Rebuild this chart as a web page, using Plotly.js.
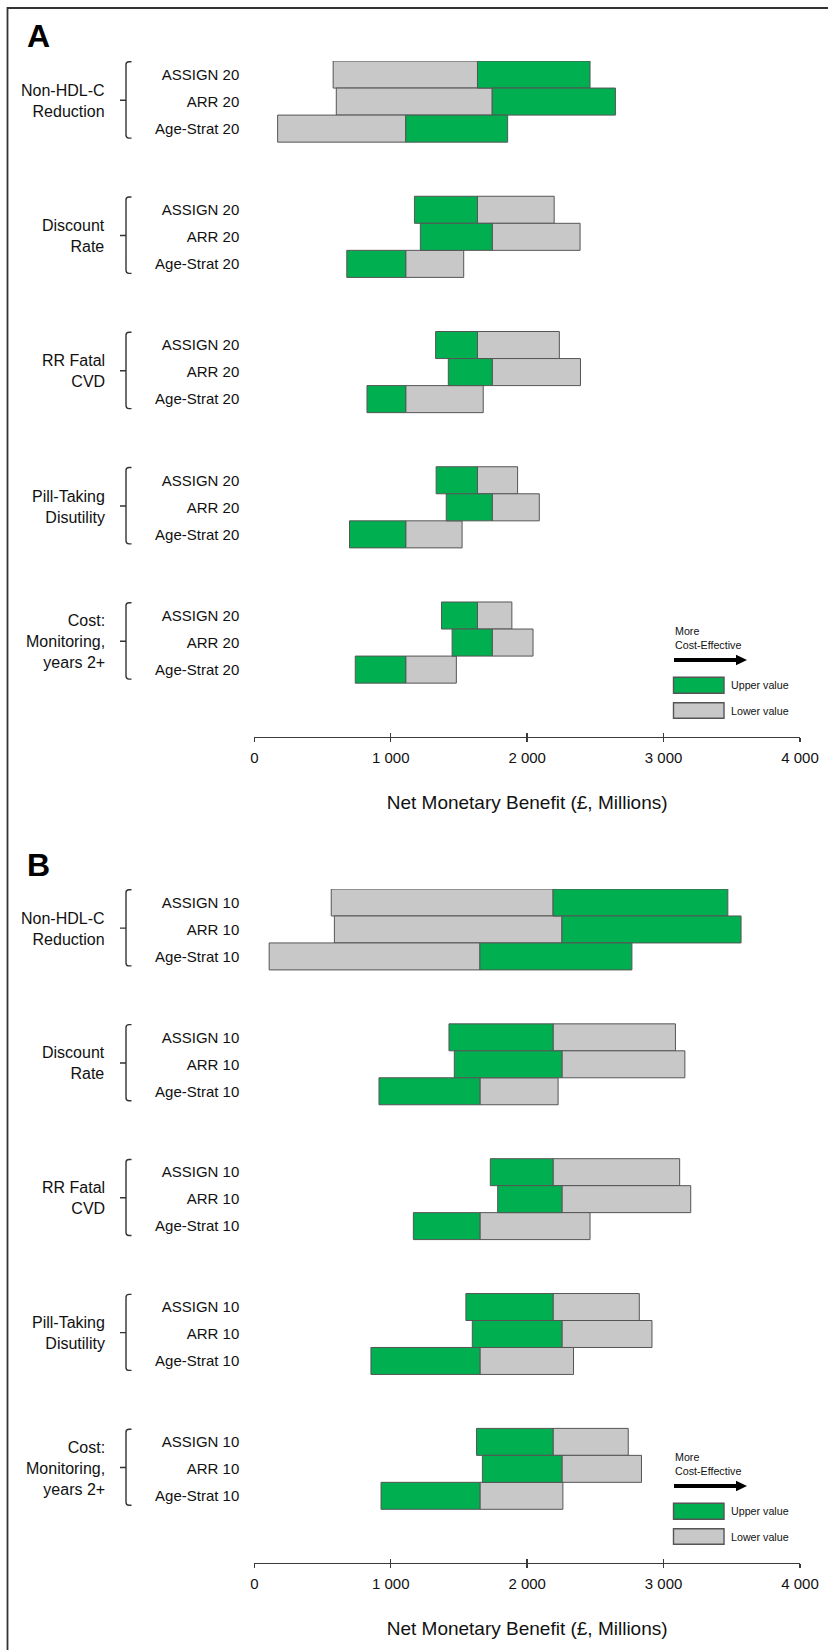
<!DOCTYPE html>
<html><head><meta charset="utf-8">
<script src="https://cdn.plot.ly/plotly-3.0.1.min.js"></script>
<style>html,body{margin:0;padding:0;background:#fff}#chart{width:828px;height:1650px}</style>
</head><body><div id="chart"></div>
<script>
// ---------------- DATA ----------------
const groupLabels = ['Non-HDL-C<br>Reduction', 'Discount<br>Rate', 'RR Fatal<br>CVD', 'Pill-Taking<br>Disutility', 'Cost:<br>Monitoring,<br>years 2+'];
const modelsA = ['ASSIGN 20', 'ARR 20', 'Age-Strat 20'];
const modelsB = ['ASSIGN 10', 'ARR 10', 'Age-Strat 10'];
// base-case net monetary benefit per model (£ millions)
const baseA = [1636, 1744, 1110];
const baseB = [2190, 2255, 1654];
// NMB at upper / lower parameter value, rows in order group x model
const upperA = [2461, 2647, 1857,  1174, 1217, 678,  1329, 1422, 826,  1333, 1407, 698,  1372, 1450, 740];
const lowerA = [578, 601, 171,  2198, 2388, 1535,  2236, 2391, 1678,  1930, 2089, 1523,  1888, 2043, 1481];
const upperB = [3471, 3568, 2768,  1427, 1466, 914,  1730, 1784, 1166,  1551, 1598, 855,  1629, 1672, 929];
const lowerB = [564, 587, 109,  3087, 3156, 2227,  3118, 3199, 2461,  2822, 2915, 2340,  2741, 2838, 2262];
const xTickVals = [0, 1000, 2000, 3000, 4000];
const xTickText = ['0', '1 000', '2 000', '3 000', '4 000'];
const axisTitle = 'Net Monetary Benefit (£, Millions)';
const legendNames = ['Upper value', 'Lower value'];
const arrowText = 'More<br>Cost-Effective';
const panelLetters = ['A', 'B'];

// ---------------- STYLE / LAYOUT ----------------
const W = 828, H = 1650;
const px = v => v / W;
const py = v => 1 - v / H;
const FONT = 'Liberation Sans, Arial, Helvetica, sans-serif';
const TXT = '#111';
const GREEN = '#00b050', GRAY = '#c8c8c8', EDGE = '#555', AXC = '#3a3a3a';
const ROWS_PER_GROUP = 5;
const yRange = [24.48, -0.5];
const xDom = [px(254.3), px(800)];

const panels = [
  {letter: panelLetters[0], models: modelsA, base: baseA, upper: upperA, lower: lowerA, xa: 'x', ya: 'y', ov: 'x3', top: 61, axisY: 736.7},
  {letter: panelLetters[1], models: modelsB, base: baseB, upper: upperB, lower: lowerB, xa: 'x2', ya: 'y2', ov: 'x4', top: 889, axisY: 1562.7}
];

const traces = [], shapes = [], annotations = [];
const layout = {
  width: W, height: H, margin: {l: 0, r: 0, t: 0, b: 0, pad: 0},
  paper_bgcolor: '#fff', plot_bgcolor: 'rgba(0,0,0,0)',
  showlegend: false, barmode: 'overlay',
  font: {family: FONT, color: TXT, size: 15}
};

panels.forEach((p, pi) => {
  const ys = [], baseArr = [], upLen = [], loLen = [], tickV = [], tickT = [];
  groupLabels.forEach((g, gi) => {
    p.models.forEach((m, mi) => {
      const k = gi * 3 + mi;
      const y = gi * ROWS_PER_GROUP + mi;
      ys.push(y); tickV.push(y); tickT.push(m);
      baseArr.push(p.base[mi]);
      upLen.push(p.upper[k] - p.base[mi]);
      loLen.push(p.lower[k] - p.base[mi]);
    });
    const top = gi * ROWS_PER_GROUP - 0.47, bot = gi * ROWS_PER_GROUP + 2.35, mid = gi * ROWS_PER_GROUP + 0.95;
    const vx = px(126), hx = px(131.5), nx = px(120), rx = px(3), ry = 0.11;
    shapes.push({type: 'path', xref: 'paper', yref: p.ya, line: {color: '#333', width: 1.4},
      path: `M${hx},${top} L${vx + rx},${top} Q${vx},${top} ${vx},${top + ry} L${vx},${bot - ry} Q${vx},${bot} ${vx + rx},${bot} L${hx},${bot} M${vx},${mid} L${nx},${mid}`});
    annotations.push({xref: 'paper', yref: p.ya, x: px(107), y: gi * ROWS_PER_GROUP + 0.97, xanchor: 'right', yanchor: 'middle',
      align: 'right', showarrow: false, text: g, font: {size: 16, color: TXT}});
  });
  traces.push({type: 'bar', orientation: 'h', name: legendNames[1], y: ys, x: loLen, base: baseArr, width: 1,
    marker: {color: GRAY, line: {color: EDGE, width: 1}}, xaxis: p.xa, yaxis: p.ya, hoverinfo: 'skip'});
  traces.push({type: 'bar', orientation: 'h', name: legendNames[0], y: ys, x: upLen, base: baseArr, width: 1,
    marker: {color: GREEN, line: {color: EDGE, width: 1}}, xaxis: p.xa, yaxis: p.ya, hoverinfo: 'skip'});
  traces.push({type: 'scatter', x: [], y: [], xaxis: p.ov, yaxis: p.ya, showlegend: false, hoverinfo: 'skip'});

  const yDom = [py(p.axisY), py(p.top)];
  const xKey = p.xa === 'x' ? 'xaxis' : 'xaxis2';
  const yKey = p.ya === 'y' ? 'yaxis' : 'yaxis2';
  const ovKey = 'xaxis' + p.ov.slice(1);
  layout[xKey] = {domain: xDom, anchor: p.ya, range: [0, 4000], tickvals: xTickVals, ticktext: xTickText,
    ticks: 'outside', ticklen: 4, tickwidth: 1.5, tickcolor: AXC, showline: true, linecolor: AXC, linewidth: 1.6,
    showgrid: false, zeroline: false, automargin: false, tickfont: {size: 15, color: TXT}, ticklabelstandoff: 3,
    title: {text: axisTitle, font: {size: 19, color: TXT}, standoff: 30}};
  layout[ovKey] = {overlaying: p.xa, anchor: p.ya, range: [0, 4000], tickvals: xTickVals, ticks: 'inside', ticklen: 4,
    tickwidth: 1.5, tickcolor: AXC, showticklabels: false, showline: false, showgrid: false, zeroline: false};
  layout[yKey] = {domain: yDom, anchor: p.xa, range: yRange, tickvals: tickV, ticktext: tickT, ticks: '',
    showline: false, showgrid: false, zeroline: false, automargin: false, ticklabelstandoff: 14,
    tickfont: {size: 15, color: TXT}};

  // panel letter
  annotations.push({xref: 'paper', yref: 'paper', x: px(25), y: py(p.top - 24.5), xanchor: 'left', yanchor: 'middle',
    showarrow: false, text: '<b>' + p.letter + '</b>', font: {size: 32, color: '#000'}});

  // legend (relative to axis line)
  const a = p.axisY;
  annotations.push({xref: 'paper', yref: 'paper', x: px(673), y: py(a - 98.3), xanchor: 'left', yanchor: 'middle',
    align: 'left', showarrow: false, text: arrowText, font: {size: 10.7, color: TXT}});
  const ax0 = 674, ax1 = 736, ax2 = 747, ay = a - 76.7;
  shapes.push({type: 'path', xref: 'paper', yref: 'paper', fillcolor: '#000', line: {width: 0},
    path: `M${px(ax0)},${py(ay - 1.9)} L${px(ax1)},${py(ay - 1.9)} L${px(ax1)},${py(ay - 5.3)} L${px(ax2)},${py(ay)} L${px(ax1)},${py(ay + 5.3)} L${px(ax1)},${py(ay + 1.9)} L${px(ax0)},${py(ay + 1.9)} Z`});
  [[GREEN, -59.4, -43.4, legendNames[0]], [GRAY, -34, -18.4, legendNames[1]]].forEach(([c, t, b, name]) => {
    shapes.push({type: 'rect', xref: 'paper', yref: 'paper', x0: px(673.5), x1: px(724), y0: py(a + b), y1: py(a + t),
      fillcolor: c, line: {color: EDGE, width: 1.4}});
    annotations.push({xref: 'paper', yref: 'paper', x: px(729), y: py(a + (t + b) / 2), xanchor: 'left', yanchor: 'middle',
      showarrow: false, text: name, font: {size: 10.7, color: TXT}});
  });
});

// outer frame (left and top edges)
shapes.push({type: 'path', xref: 'paper', yref: 'paper', line: {color: '#333', width: 1.8},
  path: `M${px(7.5)},${py(H)} L${px(7.5)},${py(8)} L${px(W)},${py(8)}`});

layout.shapes = shapes;
layout.annotations = annotations;
Plotly.newPlot('chart', traces, layout, {displayModeBar: false, staticPlot: true});
</script>
</body></html>
